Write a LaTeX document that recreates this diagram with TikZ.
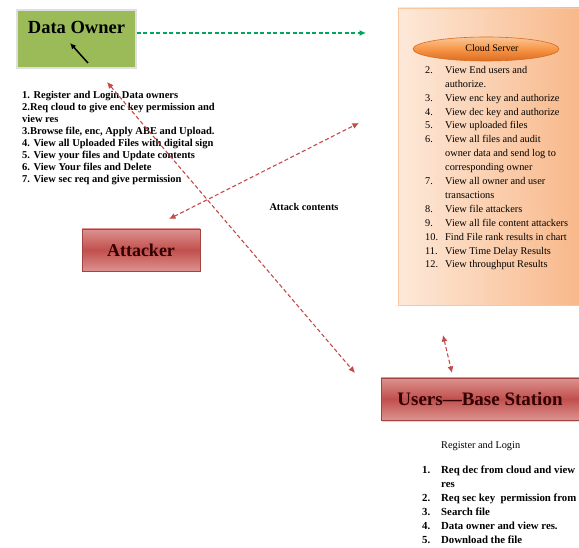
\documentclass[tikz,border=0pt]{standalone}
\usepackage{fontspec}
\setmainfont{Liberation Serif}
\usepackage{tikz}
\usetikzlibrary{arrows.meta,shapes.geometric,shadows}

\definecolor{ownergreen}{RGB}{155,187,89}
\definecolor{boxred}{RGB}{192,80,77}
\definecolor{boxredlight}{RGB}{221,146,144}
\definecolor{cloudlight}{RGB}{253,233,217}
\definecolor{clouddark}{RGB}{248,184,138}
\definecolor{tagorange}{RGB}{247,150,70}
\definecolor{tagdark}{RGB}{218,108,34}
\definecolor{taglight}{RGB}{251,198,152}
\definecolor{linkred}{RGB}{196,74,74}
\definecolor{linkgreen}{RGB}{0,166,90}

\newcommand{\listno}[1]{\makebox[20pt][l]{#1}}

\begin{document}
\begin{tikzpicture}[x=1pt,y=1pt,yscale=-1,xscale=1,
  ownerbox/.style={draw=gray!25,line width=1.2pt,fill=ownergreen,minimum width=119pt,minimum height=58pt,inner sep=0pt,
    drop shadow={opacity=0.3,shadow xshift=1.2pt,shadow yshift=-1.5pt}},
  redbox/.style={draw=boxred!85!black,line width=0.6pt,top color=boxredlight,bottom color=boxredlight,middle color=boxred,
    inner sep=0pt,text=black!80!red,font=\fontsize{18}{20}\selectfont\bfseries,
    drop shadow={opacity=0.3,shadow xshift=1.2pt,shadow yshift=-1.5pt}},
  cloudbox/.style={draw=clouddark!80!white,line width=0.5pt,left color=cloudlight,right color=clouddark,
    minimum width=181pt,minimum height=297pt,inner sep=0pt,
    drop shadow={opacity=0.25,shadow xshift=1pt,shadow yshift=-1.5pt}},
  cloudtag/.style={ellipse,draw=tagdark,line width=0.6pt,top color=taglight,bottom color=tagdark,middle color=tagorange,
    minimum width=146pt,minimum height=24pt,inner sep=0pt},
  redlink/.style={draw=linkred,line width=1.1pt,dash pattern={on 4pt off 2.5pt},{Latex[length=6.5pt,width=6pt]}-{Latex[length=6.5pt,width=6pt]}},
  greenlink/.style={draw=linkgreen,line width=1.1pt,dash pattern={on 4pt off 2.5pt},-{Latex[length=6.5pt,width=6pt]}},
  boldlist/.style={inner sep=0pt,align=left,font=\fontsize{10.5}{12}\selectfont\bfseries},
  plainlist/.style={inner sep=0pt,align=left,font=\fontsize{10.3}{13.9}\selectfont}
]
\useasboundingbox (0,0) rectangle (579,548);

%Shape: Rectangle
\node[cloudbox] (cloud) at (488.5,156.5) {};
%Shape: Ellipse
\node[cloudtag] (tag) at (486,49) {};
% Text Node
\node[font=\fontsize{10}{12}\selectfont] (tagText) at (492,48.5) {Cloud Server};

%Shape: Rectangle
\node[ownerbox] (owner) at (76.5,39) {};
% Text Node
\node[font=\fontsize{18.5}{20}\selectfont\bfseries] (ownerTitle) at (76.5,27) {Data Owner};
%Straight Lines
\coordinate (penTail) at (88,63);
\coordinate (penTip) at (70,43);
\draw[line width=1.5pt,-{Latex[length=6pt,width=5.5pt]}] (penTail) -- (penTip);

%Shape: Rectangle
\node[redbox,minimum width=118pt,minimum height=42pt] (attacker) at (141,250) {Attacker};
%Shape: Rectangle
\node[redbox,minimum width=198pt,minimum height=42pt,font=\fontsize{19}{21}\selectfont\bfseries] (users) at (480,399) {Users---Base Station};

% Text Node
\node[boldlist,anchor=north west] (ownerList) at (22,91) {1. Register and Login Data owners\\
2.Req cloud to give enc key permission and\\
view res\\
3.Browse file, enc, Apply ABE and Upload.\\
4. View all Uploaded Files with digital sign\\
5. View your files and Update contents\\
6. View Your files and Delete\\
7. View sec req and give permission};

% Text Node
\node[plainlist,anchor=north west] (cloudList) at (425,66) {\listno{2.}View End users and\\
\listno{}authorize.\\
\listno{3.}View enc key and authorize\\
\listno{4.}View dec key and authorize\\
\listno{5.}View uploaded files\\
\listno{6.}View all files and audit\\
\listno{}owner data and send log to\\
\listno{}corresponding owner\\
\listno{7.}View all owner and user\\
\listno{}transactions\\
\listno{8.}View file attackers\\
\listno{9.}View all file content attackers\\
\listno{10.}Find File rank results in chart\\
\listno{11.}View Time Delay Results\\
\listno{12.}View throughput Results};

% Text Node
\node[font=\fontsize{10.3}{12}\selectfont\bfseries] (attackText) at (304,207) {Attack contents};

% Text Node
\node[inner sep=0pt,anchor=base west,font=\fontsize{10.3}{12}\selectfont] (loginText) at (441,448.5) {Register and Login};
% Text Node
\node[boldlist,anchor=north west,font=\fontsize{10.8}{14}\selectfont\bfseries] (usersList) at (422,466) {\makebox[19pt][l]{1.}Req dec from cloud and view\\
\makebox[19pt][l]{}res\\
\makebox[19pt][l]{2.}Req sec key\ \ permission from\\
\makebox[19pt][l]{3.}Search file\\
\makebox[19pt][l]{4.}Data owner and view res.\\
\makebox[19pt][l]{5.}Download the file};

%Straight Lines
\coordinate (cloudIn) at (366,33);
\draw[greenlink] (owner.east |- cloudIn) -- (cloudIn);
%Straight Lines
\coordinate (ownerTip) at (107,82);
\coordinate (usersTip) at (355,373);
\draw[redlink] (ownerTip) -- (usersTip);
%Straight Lines
\coordinate (attackTip) at (169,219);
\coordinate (cloudTip) at (359,123);
\draw[redlink] (attackTip) -- (cloudTip);
%Straight Lines
\coordinate (cloudFoot) at (443,335);
\coordinate (usersHead) at (452,373);
\draw[redlink] (cloudFoot) -- (usersHead);
\end{tikzpicture}
\end{document}
